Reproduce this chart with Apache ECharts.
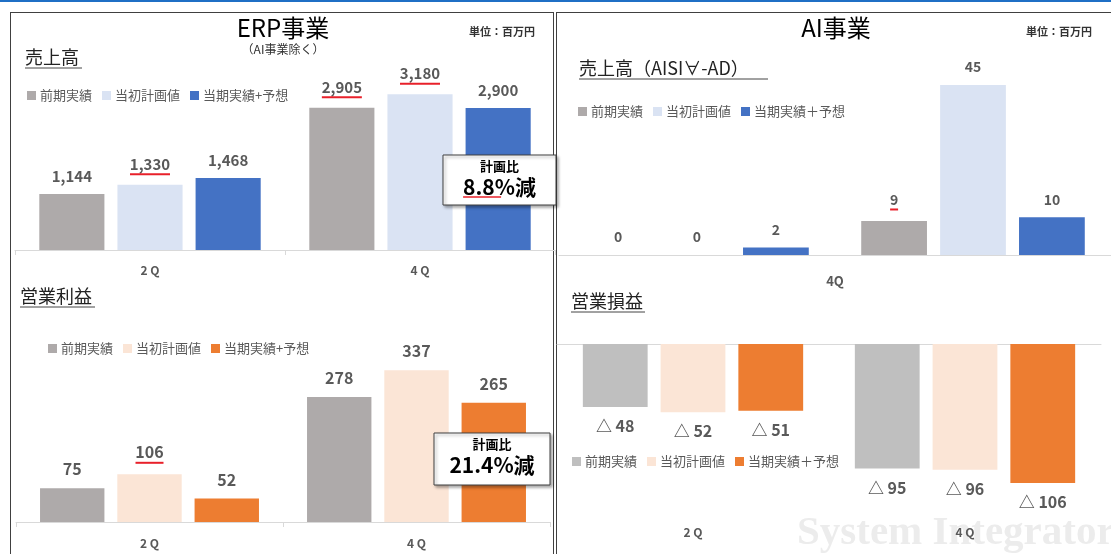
<!DOCTYPE html>
<html>
<head>
<meta charset="utf-8">
<script src="https://cdn.jsdelivr.net/npm/echarts@6.0.0/dist/echarts.min.js"></script>
<style>
body{margin:0;width:1111px;height:554px;overflow:hidden;background:#fff;position:relative}
.c{position:absolute;left:0;top:0;width:1111px;height:554px}
.topline{position:absolute;left:0;top:0;width:1111px;height:2px;background:#1f6fc5}
.panel{position:absolute;border:1px solid #404040}
</style>
</head>
<body>
<div class="topline"></div>
<div class="panel" style="left:10px;top:12px;width:542px;height:560px"></div>
<div class="panel" style="left:556px;top:12px;width:600px;height:560px"></div>
<div id="erpSales" class="c"></div>
<div id="erpProfit" class="c"></div>
<div id="aiSales" class="c"></div>
<div id="aiProfit" class="c"></div>
<script>
// データ（単位：百万円）
var quarters = ['2 Q', '4 Q'];
var erpLegend = ['前期実績', '当初計画値', '当期実績+予想'];
var aiLegend = ['前期実績', '当初計画値', '当期実績＋予想'];

var erpSalesPrior = [1144, 2905];
var erpSalesPlan = [1330, 3180];
var erpSalesForecast = [1468, 2900];

var erpProfitPrior = [75, 278];
var erpProfitPlan = [106, 337];
var erpProfitForecast = [52, 265];

var aiSalesPrior = [0, 9];
var aiSalesPlan = [0, 45];
var aiSalesForecast = [2, 10];
var aiSalesAxisLabel = ['4Q'];

var aiProfitPrior = [-48, -95];
var aiProfitPlan = [-52, -96];
var aiProfitForecast = [-51, -106];

// 赤い下線つきのラベル（前期, 計画, 当期 × 2Q, 4Q）
var erpSalesRed = [[false, true], [true, true], [false, false]];
var erpProfitRed = [[false, false], [true, false], [false, false]];
var aiSalesRed = [[false, true], [false, false], [false, false]];
var noRed = [[false, false], [false, false], [false, false]];

var FONT = '"Noto Sans CJK JP", "Noto Sans", sans-serif';
var LABEL_COLOR = '#595959';

var measureCtx = document.createElement('canvas').getContext('2d');
function textWidth(s, size) {
	measureCtx.font = 'bold ' + size + 'px ' + FONT;
	return measureCtx.measureText(s).width;
}

// 棒グラフ1系列分（赤下線は幅ごとのrichスタイルで描く）
function makeSeries(names, lists, colors, reds, size, pos, dist, fmt, catGap) {
	var out = [];
	for (var i = 0; i < 3; i++) {
		(function(i) {
			var rich = {
				v : {
					fontSize : size,
					fontWeight : 'bold',
					color : LABEL_COLOR,
					fontFamily : FONT,
					lineHeight : size + 2
				}
			};
			for (var k = 0; k < lists[i].length; k++) {
				if (reds[i][k]) {
					var w = Math.round(textWidth(fmt(lists[i][k]), size));
					rich['u' + w] = {
						width : w,
						height : 2,
						lineHeight : 3,
						backgroundColor : '#e8202a'
					};
				}
			}
			out.push({
				name : names[i],
				type : 'bar',
				data : lists[i],
				barGap : '20%',
				barCategoryGap : catGap,
				itemStyle : {
					color : colors[i]
				},
				label : {
					show : true,
					position : pos,
					distance : dist,
					formatter : function(p) {
						var t = fmt(p.value);
						if (reds[i][p.dataIndex]) {
							var w = Math.round(textWidth(t, size));
							return '{v|' + t + '}\n{u' + w + '|}';
						}
						return '{v|' + t + '}';
					},
					rich : rich
				}
			});
		})(i);
	}
	return out;
}

function legendOpt(names, left, top) {
	return {
		data : names,
		left : left,
		top : top,
		icon : 'rect',
		itemWidth : 9,
		itemHeight : 9,
		itemGap : 10,
		selectedMode : false,
		textStyle : {
			fontSize : 13,
			color : LABEL_COLOR,
			fontFamily : FONT,
			padding : [0, 0, 0, -1]
		}
	};
}

function catAxis(data, labelMargin, showTick) {
	return {
		type : 'category',
		data : data,
		position : 'bottom',
		axisLine : {
			lineStyle : {
				color : '#d9d9d9'
			}
		},
		axisTick : {
			show : showTick,
			length : 5,
			lineStyle : {
				color : '#d9d9d9'
			}
		},
		axisLabel : {
			margin : labelMargin,
			fontSize : 12,
			fontWeight : 'bold',
			color : LABEL_COLOR,
			fontFamily : FONT
		}
	};
}

function hiddenValueAxis(min, max) {
	return {
		type : 'value',
		min : min,
		max : max,
		show : false,
		splitLine : {
			show : false
		}
	};
}

function txt(text, x, y, size, opts) {
	var st = {
		text : text,
		x : x,
		y : y,
		fontSize : size,
		fontFamily : FONT,
		fill : '#000',
		textAlign : 'left',
		textVerticalAlign : 'middle'
	};
	for (var k in opts)
		st[k] = opts[k];
	return {
		type : 'text',
		z : 100,
		style : st
	};
}

function hline(x1, x2, y, color, w) {
	return {
		type : 'line',
		z : 100,
		shape : {
			x1 : x1,
			y1 : y,
			x2 : x2,
			y2 : y
		},
		style : {
			stroke : color,
			lineWidth : w
		}
	};
}

function callout(x, y, w, h, head, body, redW) {
	var cx = x + w / 2;
	var items = [ {
		type : 'rect',
		z : 100,
		shape : {
			x : x,
			y : y,
			width : w,
			height : h
		},
		style : {
			fill : '#fff',
			stroke : '#404040',
			lineWidth : 1,
			shadowBlur : 3,
			shadowOffsetX : 2,
			shadowOffsetY : 2,
			shadowColor : 'rgba(0,0,0,0.35)'
		}
	}, txt(head, cx, y + 11, 13, {
		textAlign : 'center',
		fontWeight : 'bold'
	}), txt(body, cx, y + 32, 21, {
		textAlign : 'center',
		fontWeight : 'bold'
	}) ];
	if (redW) {
		var bw = textWidth(body, 21);
		items.push(hline(cx - bw / 2, cx - bw / 2 + redW, y + 42, '#e8202a', 1.5));
	}
	return items;
}

function ratioText(plan, actual) {
	var r = (plan - actual) / plan * 100;
	return r.toFixed(1) + '%減';
}

var comma = function(v) {
	return echarts.format.addCommas(v);
};
var tri = function(v) {
	return '△ ' + Math.abs(v);
};

// ERP 売上高
var chartA = echarts.init(document.getElementById('erpSales'));
var planA = ratioText(erpSalesPlan[1], erpSalesForecast[1]);
chartA.setOption({
	animation : false,
	legend : legendOpt(erpLegend, 22, 84),
	grid : {
		left : 15,
		top : 54,
		width : 540,
		height : 196
	},
	xAxis : catAxis(quarters, 14, true),
	yAxis : hiddenValueAxis(0, 4000),
	series : makeSeries(erpLegend, [ erpSalesPrior, erpSalesPlan, erpSalesForecast ],
			[ '#aeaaaa', '#dae3f3', '#4472c4' ], erpSalesRed, 15, 'top', 9, comma, '18%'),
	graphic : [
			txt('ERP事業', 283, 28, 24, {
				textAlign : 'center'
			}),
			txt('（AI事業除く）', 283, 49, 12, {
				textAlign : 'center',
				fill : '#333'
			}),
			txt('単位：百万円', 469, 32, 11, {
				fontWeight : 'bold',
				fill : '#333'
			}),
			txt('売上高', 25, 57, 18, {
				fill : '#222'
			}),
			hline(25, 82, 68, '#444', 1)
	].concat(callout(443, 155, 113, 50, '計画比', planA, 38))
});

// ERP 営業利益
var chartB = echarts.init(document.getElementById('erpProfit'));
var planB = ratioText(erpProfitPlan[1], erpProfitForecast[1]);
chartB.setOption({
	animation : false,
	legend : legendOpt(erpLegend, 43, 337),
	grid : {
		left : 16,
		top : 342,
		width : 534,
		height : 180
	},
	xAxis : catAxis(quarters, 15, true),
	yAxis : hiddenValueAxis(0, 400),
	series : makeSeries(erpLegend, [ erpProfitPrior, erpProfitPlan, erpProfitForecast ],
			[ '#aeaaaa', '#fbe5d6', '#ed7d31' ], erpProfitRed, 16, 'top', 10, comma, '18%'),
	graphic : [ txt('営業利益', 20, 296, 18, {
		fill : '#222'
	}), hline(20, 95, 307, '#444', 1) ].concat(callout(434, 433, 116, 52, '計画比', planB, 0))
});

// AI 売上高
var chartC = echarts.init(document.getElementById('aiSales'));
var axC = catAxis(quarters, 14, false);
axC.axisLabel.show = false;
var axC2 = catAxis(aiSalesAxisLabel, 20, false);
axC2.axisLine.show = false;
axC2.axisLabel.fontSize = 13;
chartC.setOption({
	animation : false,
	legend : legendOpt(aiLegend, 573, 100),
	grid : {
		left : 559,
		top : 66,
		width : 553,
		height : 189
	},
	xAxis : [ axC, axC2 ],
	yAxis : hiddenValueAxis(0, 50),
	series : makeSeries(aiLegend, [ aiSalesPrior, aiSalesPlan, aiSalesForecast ],
			[ '#aeaaaa', '#dae3f3', '#4472c4' ], aiSalesRed, 14, 'top', 10, String, '19%'),
	graphic : [ txt('AI事業', 836, 28, 24, {
		textAlign : 'center'
	}), txt('単位：百万円', 1026, 32, 11, {
		fontWeight : 'bold',
		fill : '#333'
	}), txt('売上高（AISI∀-AD）', 579, 68, 18, {
		fill : '#222'
	}), hline(579, 768, 79, '#444', 1) ]
});

// AI 営業損益
var chartD = echarts.init(document.getElementById('aiProfit'));
var axD = catAxis(quarters, 5, false);
axD.axisLine.show = false;
var axD2 = catAxis(quarters, 5, false);
axD2.position = 'top';
axD2.axisLabel.show = false;
chartD.setOption({
	animation : false,
	legend : legendOpt(aiLegend, 567, 450),
	grid : {
		left : 557,
		top : 344,
		width : 544,
		height : 177
	},
	xAxis : [ axD, axD2 ],
	yAxis : hiddenValueAxis(-135, 0),
	series : makeSeries(aiLegend, [ aiProfitPrior, aiProfitPlan, aiProfitForecast ],
			[ '#bfbfbf', '#fbe5d6', '#ed7d31' ], noRed, 16, 'bottom', 10, tri, '19%'),
	graphic : [ txt('営業損益', 571, 301, 18, {
		fill : '#222'
	}), hline(571, 645, 312, '#444', 1), {
		type : 'text',
		z : -10,
		silent : true,
		style : {
			text : 'System Integrator',
			x : 797,
			y : 554,
			fontSize : 41,
			fontWeight : 'bold',
			fontFamily : '"Liberation Serif", serif',
			fill : '#ececec',
			textVerticalAlign : 'bottom'
		}
	} ]
});
</script>
</body>
</html>
